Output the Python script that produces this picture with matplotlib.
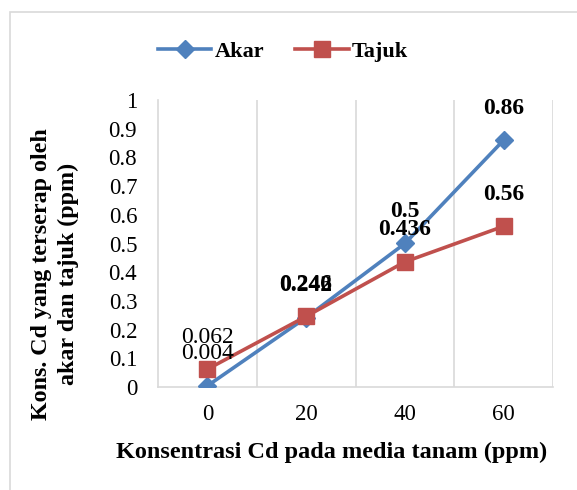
import matplotlib as mpl
from matplotlib import pyplot as plt
from matplotlib.patches import Rectangle
import numpy as np

# data
konsentrasi = ['0', '20', '40', '60']
akar = [0.004, 0.242, 0.5, 0.86]
tajuk = [0.062, 0.246, 0.436, 0.56]
akar_lbl = ['0.004', '0.242', '0.5', '0.86']
tajuk_lbl = ['0.062', '0.246', '0.436', '0.56']
yticks = [0, 0.1, 0.2, 0.3, 0.4, 0.5, 0.6, 0.7, 0.8, 0.9, 1]

plt.rcParams['font.family'] = ['Liberation Serif', 'DejaVu Serif']

W, H = 577, 490
fig = plt.figure(figsize=(W/100, H/100), dpi=100)
ax = fig.add_axes([158/W, 1-387/H, (553-158)/W, (387-100)/H])

blue = '#4F81BD'
red = '#C0504D'
grid = '#D9D9D9'

x = np.arange(len(konsentrasi))
ax.plot(x, akar, color=blue, lw=2.6, marker='D', ms=9.5, label='Akar', zorder=3)
ax.plot(x, tajuk, color=red, lw=2.6, marker='s', ms=11.5, label='Tajuk', zorder=3)

for i in range(len(x)):
    w = 'normal' if i == 0 else 'bold'
    ax.annotate(akar_lbl[i], (x[i], akar[i]), xytext=(0, 23), textcoords='offset points',
                ha='center', va='center', fontsize=17, fontweight=w, zorder=4)
    ax.annotate(tajuk_lbl[i], (x[i], tajuk[i]), xytext=(0, 23), textcoords='offset points',
                ha='center', va='center', fontsize=17, fontweight=w, zorder=4)

ax.set_xlim(-0.5, 3.5)
ax.set_ylim(0, 1)
ax.set_xticks(x)
ax.set_xticklabels(konsentrasi)
ax.set_yticks(yticks)
ax.set_yticklabels([('%g' % v) for v in yticks])
ax.tick_params(axis='both', length=0, labelsize=16.5)
ax.tick_params(axis='y', pad=15)
ax.tick_params(axis='x', pad=12)
for v in [0.5, 1.5, 2.5, 3.5]:
    ax.axvline(v, color=grid, lw=1.2, zorder=1)
for s in ['top', 'right']:
    ax.spines[s].set_visible(False)
for s in ['left', 'bottom']:
    ax.spines[s].set_color(grid)
    ax.spines[s].set_linewidth(1.2)

fig.text(332/W, 1-452/H, 'Konsentrasi Cd pada media tanam (ppm)', ha='center', va='center',
         fontsize=17.5, fontweight='bold')
fig.text(42/W, 1-274/H, 'Kons. Cd yang terserap oleh', rotation=90, ha='center', va='center',
         fontsize=17.3, fontweight='bold')
fig.text(68/W, 1-274/H, 'akar dan tajuk (ppm)', rotation=90, ha='center', va='center',
         fontsize=17.3, fontweight='bold')

leg = fig.legend(loc='center', bbox_to_anchor=(283/W, 1-52/H), ncol=2, frameon=False,
                 prop={'size': 16, 'weight': 'bold'}, handlelength=2.4,
                 handletextpad=0.15, columnspacing=1.4)

fig.patches.append(Rectangle((10/W, -0.1), 1.2, 1-12/H+0.1, transform=fig.transFigure,
                             fill=False, edgecolor=grid, lw=1.2))

fig.savefig('out.png', dpi=100)
